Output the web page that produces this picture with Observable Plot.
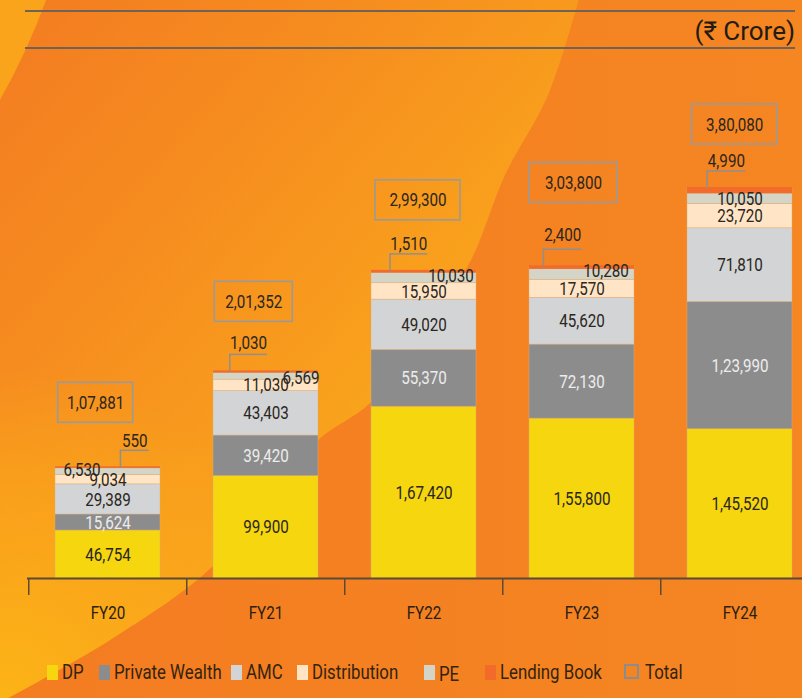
<!DOCTYPE html>
<html>
<head>
<meta charset="utf-8">
<script src="https://cdn.jsdelivr.net/npm/d3@7"></script>
<script src="https://cdn.jsdelivr.net/npm/@observablehq/plot@0.6"></script>
<style>
  html, body { margin: 0; padding: 0; width: 802px; height: 698px; overflow: hidden; background: #F47F21; }
  body { position: relative; font-family: Roboto, "Noto Sans", sans-serif; }
  #bg { position: absolute; left: 0; top: 0; z-index: 0; }
  #wrap { position: relative; z-index: 1; width: 802px; height: 698px; }
  #header { position: relative; height: 55px; }
  .hline { position: absolute; left: 25px; width: 770px; height: 2px; background: #6f6256; }
  #unit { position: absolute; right: 7px; top: 16px; font-size: 26px; line-height: 30px; color: #231a12; white-space: nowrap; }
  #chart { height: 597px; }
  #chart svg { display: block; background: transparent !important; overflow: visible; }
  #legend { position: relative; height: 46px; }
  .sw { position: absolute; top: 13px; width: 11px; height: 15px; }
  .sw.total { width: 11px; height: 11px; border: 2.5px solid #8c8c8c; top: 12px; }
  .lt { position: absolute; top: 8px; font-size: 20px; line-height: 24px; color: #33230f; transform: scaleX(0.84); transform-origin: 0 50%; white-space: nowrap; }
</style>
</head>
<body>
<svg id="bg" width="802" height="698"></svg>
<div id="wrap">
  <div id="header">
    <div class="hline" style="top:10px"></div>
    <div class="hline" style="top:47px"></div>
    <div id="unit">(₹ Crore)</div>
  </div>
  <div id="chart"></div>
  <div id="legend"></div>
</div>
<script>
// ---------------- data ----------------
const years = ["FY20", "FY21", "FY22", "FY23", "FY24"];
const segments = ["DP", "Private Wealth", "AMC", "Distribution", "PE", "Lending Book"];
const dp            = [46754, 99900, 167420, 155800, 145520];
const privateWealth = [15624, 39420, 55370, 72130, 123990];
const amc           = [29389, 43403, 49020, 45620, 71810];
const distribution  = [9034, 11030, 15950, 17570, 23720];
const pe            = [6530, 6569, 10030, 10280, 10050];
const lendingBook   = [550, 1030, 1510, 2400, 4990];
const totals        = [107881, 201352, 299300, 303800, 380080];
const legendLabels  = ["DP", "Private Wealth", "AMC", "Distribution", "PE", "Lending Book", "Total"];

// ---------------- styling / layout ----------------
const segColors = ["#F5D60F", "#8C8C8C", "#D3D4D6", "#FFE5C6", "#D4D5C7", "#F26B2B"];
const textDark = "#2a2620";
const textLight = "#ececec";
const boxLift = [65, 70, 71, 84, 64];
const boxInsetL = [2.7, 1.3, 4, 0, 4.7];
const boxInsetR = [27.3, 25.7, 16, 17, 15.3];
const leaderX = [64.7, 16, 18.3, 13.7, 19.4];
const leaderLen = [29, 38, 38, 39, 39];
const leaderLabelLift = [27, 29, 27, 32, 28];
const peShift = [[-26, -2], [35, 2], [27, -2], [24, -4], [0, 0]];
const legendX = [47, 99, 231, 297, 424, 485, 624];
const BW = 105;

const fmtIN = v => {
  const s = String(Math.round(v));
  if (s.length <= 3) return s;
  const last3 = s.slice(-3);
  let rest = s.slice(0, -3);
  const parts = [];
  while (rest.length > 2) { parts.unshift(rest.slice(-2)); rest = rest.slice(0, -2); }
  if (rest) parts.unshift(rest);
  return parts.join(",") + "," + last3;
};

const seriesValues = [dp, privateWealth, amc, distribution, pe, lendingBook];
const rows = [];
years.forEach((yr, i) => {
  let acc = 0;
  segments.forEach((seg, j) => {
    const v = seriesValues[j][i];
    rows.push({year: yr, segment: seg, value: v, y1: acc, y2: acc + v, mid: acc + v / 2, i, j});
    acc += v;
  });
});
const tops = years.map((yr, i) => ({year: yr, total: totals[i], lending: lendingBook[i], i}));

// ---------------- background decoration ----------------
(function drawBg() {
  const bg = d3.select("#bg");
  const defs = bg.append("defs");
  const gl = defs.append("linearGradient").attr("id", "gLight").attr("gradientUnits", "userSpaceOnUse")
    .attr("x1", 40).attr("y1", 40).attr("x2", 400).attr("y2", 360);
  gl.append("stop").attr("offset", 0).attr("stop-color", "#F47F21");
  gl.append("stop").attr("offset", 0.45).attr("stop-color", "#F68D1F");
  gl.append("stop").attr("offset", 1).attr("stop-color", "#F9A21C");
  const gy = defs.append("radialGradient").attr("id", "gYel").attr("gradientUnits", "userSpaceOnUse")
    .attr("cx", 0).attr("cy", 698).attr("r", 330);
  gy.append("stop").attr("offset", 0).attr("stop-color", "#FCB416").attr("stop-opacity", 1);
  gy.append("stop").attr("offset", 0.6).attr("stop-color", "#FBAA19").attr("stop-opacity", 0.6);
  gy.append("stop").attr("offset", 1).attr("stop-color", "#FBAA19").attr("stop-opacity", 0);
  const gb = defs.append("linearGradient").attr("id", "gBase").attr("x1", 0).attr("x2", 1).attr("y1", 0).attr("y2", 0);
  gb.append("stop").attr("offset", 0).attr("stop-color", "#F47C21");
  gb.append("stop").attr("offset", 1).attr("stop-color", "#F58622");
  const curve = [[580, -5], [548, 95], [505, 175], [470, 262], [420, 338], [370, 403], [318, 440], [265, 500], [213, 566], [110, 640], [-5, 705]];
  const line = d3.line().curve(d3.curveCatmullRom.alpha(0.5));
  const lightPath = line(curve) + "L-5,705L-5,-5Z";
  defs.append("clipPath").attr("id", "cLight").append("path").attr("d", lightPath);
  bg.append("rect").attr("width", 802).attr("height", 698).attr("fill", "url(#gBase)");
  bg.append("path").attr("d", lightPath).attr("fill", "url(#gLight)");
  bg.append("rect").attr("width", 802).attr("height", 698).attr("fill", "url(#gYel)").attr("clip-path", "url(#cLight)");
  bg.append("path").attr("d", "M0,0L46,0Q28,50 0,100Z").attr("fill", "#FAA41B");
})();

// ---------------- chart ----------------
const txt = {fontSize: 19, fontFamily: "Roboto, 'Noto Sans', sans-serif"};
const marks = [];

// stacked segments
marks.push(Plot.barY(rows, {x: "year", y1: "y1", y2: "y2", fill: "segment", stroke: "#dcae7e", strokeWidth: 0.6, strokeOpacity: 0.7}));
marks.push(Plot.barY(rows.filter(r => r.segment === "Lending Book"), {x: "year", y1: "y1", y2: "y2", fill: segColors[5], insetTop: -1}));

// segment labels
marks.push(Plot.text(rows.filter(r => r.j === 0 || r.j === 2 || r.j === 3), {x: "year", y: "mid", text: d => fmtIN(d.value), fill: textDark, ...txt}));
marks.push(Plot.text(rows.filter(r => r.j === 1), {x: "year", y: "mid", text: d => fmtIN(d.value), fill: textLight, ...txt}));
years.forEach((yr, i) => {
  marks.push(Plot.text(rows.filter(r => r.j === 4 && r.i === i), {x: "year", y: "mid", text: d => fmtIN(d.value), fill: textDark, dx: peShift[i][0], dy: peShift[i][1], ...txt}));
});

// total boxes + labels, lending leaders + labels
tops.forEach((t, i) => {
  const L = boxLift[i];
  marks.push(Plot.barY([t], {x: "year", y1: "total", y2: "total", insetTop: -(L + 20), insetBottom: L - 20,
    insetLeft: boxInsetL[i], insetRight: boxInsetR[i], fill: "none", stroke: "#9a9a9a", strokeWidth: 1.6}));
  marks.push(Plot.text([t], {x: "year", y: "total", text: d => fmtIN(d.total), dy: -L,
    dx: (boxInsetL[i] - boxInsetR[i]) / 2, fill: textDark, ...txt}));
  // vertical leader
  marks.push(Plot.barY([t], {x: "year", y1: "total", y2: "total", insetTop: -17, insetBottom: 0,
    insetLeft: leaderX[i], insetRight: BW - leaderX[i] - 1.5, fill: "#8f8f8f"}));
  // horizontal leader
  marks.push(Plot.barY([t], {x: "year", y1: "total", y2: "total", insetTop: -17.75, insetBottom: 16.25,
    insetLeft: leaderX[i], insetRight: BW - leaderX[i] - leaderLen[i], fill: "#8f8f8f"}));
  marks.push(Plot.text([t], {x: "year", y: "total", text: d => fmtIN(d.lending), dy: -leaderLabelLift[i],
    dx: leaderX[i] + leaderLen[i] / 2 - BW / 2, fill: textDark, ...txt}));
});

// axis
marks.push(Plot.ruleY([0], {stroke: "#5b4a35", strokeWidth: 2}));
marks.push(Plot.ruleX(years, {x: d => d, y1: () => 0, y2: () => 0, insetBottom: -17, dx: -79.25, stroke: "#5b4a35", strokeWidth: 1.5}));
marks.push(Plot.text(years, {x: d => d, y: () => 0, text: d => d, dy: 34, fill: "#2a2010", ...txt}));

const chart = Plot.plot({
  width: 802,
  height: 597,
  marginLeft: 27,
  marginRight: 0,
  marginTop: 0,
  marginBottom: 0,
  style: {background: "transparent", overflow: "visible"},
  x: {type: "band", domain: years, range: [27, 819.5], paddingInner: 0.3375, paddingOuter: 0.16875, align: 0.5, axis: null},
  y: {domain: [0, d3.max(totals)], range: [523, 133], axis: null},
  color: {domain: segments, range: segColors},
  marks
});
document.getElementById("chart").appendChild(chart);

// condensed look for all chart text
chart.querySelectorAll("text").forEach(t => {
  const tr = t.getAttribute("transform");
  if (tr) {
    t.setAttribute("transform", tr + " scale(0.8,1)");
  } else {
    const x = +(t.getAttribute("x") || 0), y = +(t.getAttribute("y") || 0);
    t.removeAttribute("x"); t.removeAttribute("y");
    t.setAttribute("transform", `translate(${x},${y}) scale(0.8,1)`);
  }
});

// legend
const legend = document.getElementById("legend");
legendLabels.forEach((lab, k) => {
  const sw = document.createElement("div");
  sw.className = "sw" + (lab === "Total" ? " total" : "");
  sw.style.left = legendX[k] + "px";
  if (lab !== "Total") sw.style.background = segColors[k];
  legend.appendChild(sw);
  const tx = document.createElement("div");
  tx.className = "lt";
  tx.textContent = lab;
  tx.style.left = (legendX[k] + (lab === "Total" ? 21 : 15)) + "px";
  if (lab === "PE") tx.style.top = "10px";
  legend.appendChild(tx);
});
</script>
</body>
</html>
